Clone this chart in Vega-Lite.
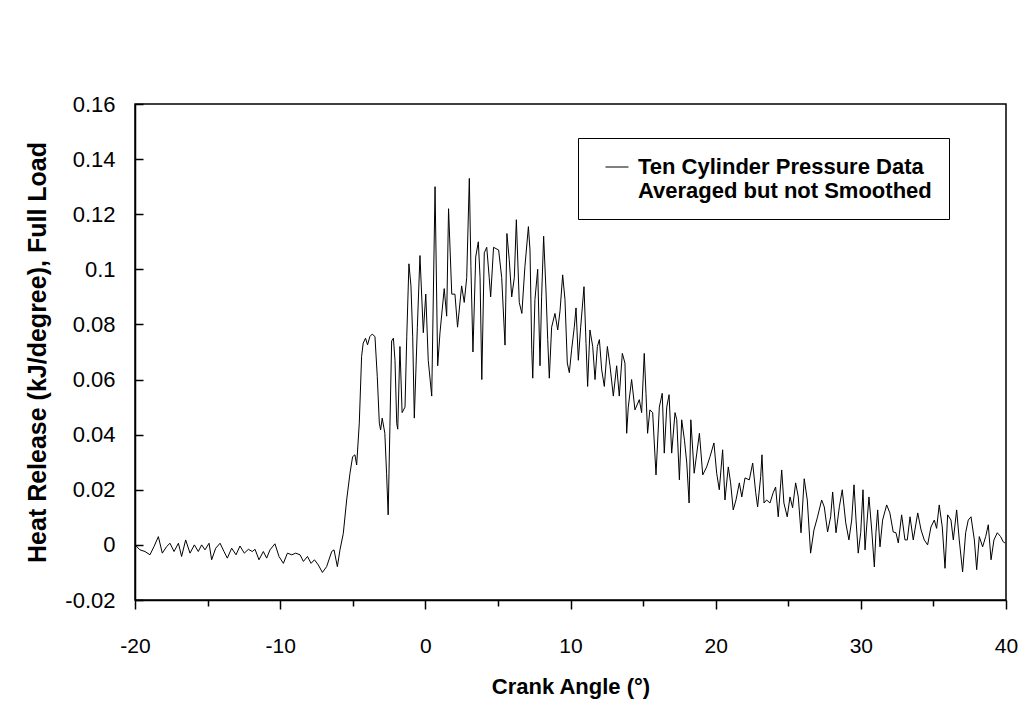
{
  "$schema": "https://vega.github.io/schema/vega-lite/v6.json",
  "autosize": {"type": "none"},
  "padding": {"left": 135, "top": 104, "right": 26, "bottom": 112},
  "width": 871,
  "height": 496,
  "background": "white",
  "config": {
    "view": {"stroke": "black", "strokeWidth": 1.5},
    "font": "Liberation Sans"
  },
  "data": {"values": [
    {"angle": -20.0, "hr": 0}, {"angle": -19.66, "hr": -0.0018}, {"angle": -19.31, "hr": -0.0024}, {"angle": -18.97, "hr": -0.0036},
    {"angle": -18.69, "hr": -0.0006}, {"angle": -18.39, "hr": 0.003}, {"angle": -18.12, "hr": -0.003}, {"angle": -17.82, "hr": -0.0006},
    {"angle": -17.59, "hr": 0.0006}, {"angle": -17.31, "hr": -0.0024}, {"angle": -17.01, "hr": 0.0006}, {"angle": -16.79, "hr": -0.0042},
    {"angle": -16.51, "hr": 0.0018}, {"angle": -16.21, "hr": -0.003}, {"angle": -15.91, "hr": 0}, {"angle": -15.64, "hr": -0.0024},
    {"angle": -15.41, "hr": 0}, {"angle": -15.18, "hr": -0.0018}, {"angle": -14.9, "hr": 0.0006}, {"angle": -14.72, "hr": -0.0054},
    {"angle": -14.44, "hr": -0.0012}, {"angle": -14.14, "hr": 0.0006}, {"angle": -13.87, "hr": -0.0024}, {"angle": -13.64, "hr": -0.0048},
    {"angle": -13.34, "hr": -0.0012}, {"angle": -13.04, "hr": -0.0036}, {"angle": -12.77, "hr": -0.0004}, {"angle": -12.47, "hr": -0.003},
    {"angle": -12.19, "hr": -0.0016}, {"angle": -11.92, "hr": -0.0024}, {"angle": -11.73, "hr": -0.0016}, {"angle": -11.46, "hr": -0.0054},
    {"angle": -11.16, "hr": -0.0024}, {"angle": -10.93, "hr": -0.0048}, {"angle": -10.7, "hr": -0.0018}, {"angle": -10.36, "hr": 0.0004},
    {"angle": -10.08, "hr": -0.0042}, {"angle": -9.78, "hr": -0.0067}, {"angle": -9.5, "hr": -0.003}, {"angle": -9.2, "hr": -0.0036},
    {"angle": -8.93, "hr": -0.003}, {"angle": -8.63, "hr": -0.0036}, {"angle": -8.4, "hr": -0.006}, {"angle": -8.12, "hr": -0.0042},
    {"angle": -7.87, "hr": -0.0067}, {"angle": -7.64, "hr": -0.0054}, {"angle": -7.37, "hr": -0.0073}, {"angle": -7.09, "hr": -0.01},
    {"angle": -6.8, "hr": -0.0079}, {"angle": -6.45, "hr": -0.0024}, {"angle": -6.29, "hr": -0.0018}, {"angle": -6.06, "hr": -0.0079},
    {"angle": -5.88, "hr": -0.0018}, {"angle": -5.65, "hr": 0.0042}, {"angle": -5.42, "hr": 0.0163}, {"angle": -5.19, "hr": 0.026},
    {"angle": -5.01, "hr": 0.032}, {"angle": -4.85, "hr": 0.0327}, {"angle": -4.73, "hr": 0.029}, {"angle": -4.55, "hr": 0.0442},
    {"angle": -4.39, "hr": 0.0684}, {"angle": -4.28, "hr": 0.0732}, {"angle": -4.12, "hr": 0.075}, {"angle": -3.98, "hr": 0.0726},
    {"angle": -3.82, "hr": 0.0756}, {"angle": -3.66, "hr": 0.0765}, {"angle": -3.47, "hr": 0.0756}, {"angle": -3.31, "hr": 0.061},
    {"angle": -3.17, "hr": 0.0442}, {"angle": -3.08, "hr": 0.0417}, {"angle": -2.97, "hr": 0.046}, {"angle": -2.79, "hr": 0.0405},
    {"angle": -2.67, "hr": 0.026}, {"angle": -2.56, "hr": 0.0109}, {"angle": -2.44, "hr": 0.043}, {"angle": -2.32, "hr": 0.074},
    {"angle": -2.2, "hr": 0.075}, {"angle": -2.09, "hr": 0.067}, {"angle": -1.97, "hr": 0.044}, {"angle": -1.9, "hr": 0.042},
    {"angle": -1.75, "hr": 0.072}, {"angle": -1.6, "hr": 0.048}, {"angle": -1.4, "hr": 0.05}, {"angle": -1.28, "hr": 0.0755},
    {"angle": -1.13, "hr": 0.102}, {"angle": -0.99, "hr": 0.094}, {"angle": -0.87, "hr": 0.0755}, {"angle": -0.76, "hr": 0.046},
    {"angle": -0.55, "hr": 0.079}, {"angle": -0.37, "hr": 0.105}, {"angle": -0.14, "hr": 0.077}, {"angle": 0.03, "hr": 0.091},
    {"angle": 0.2, "hr": 0.067}, {"angle": 0.44, "hr": 0.054}, {"angle": 0.67, "hr": 0.13}, {"angle": 0.85, "hr": 0.065},
    {"angle": 1.01, "hr": 0.077}, {"angle": 1.3, "hr": 0.093}, {"angle": 1.47, "hr": 0.083}, {"angle": 1.6, "hr": 0.122},
    {"angle": 1.82, "hr": 0.091}, {"angle": 2.04, "hr": 0.091}, {"angle": 2.22, "hr": 0.079}, {"angle": 2.5, "hr": 0.094},
    {"angle": 2.68, "hr": 0.088}, {"angle": 2.85, "hr": 0.097}, {"angle": 3.03, "hr": 0.133}, {"angle": 3.14, "hr": 0.101},
    {"angle": 3.28, "hr": 0.07}, {"angle": 3.47, "hr": 0.1045}, {"angle": 3.65, "hr": 0.11}, {"angle": 3.77, "hr": 0.097},
    {"angle": 3.89, "hr": 0.06}, {"angle": 4.06, "hr": 0.106}, {"angle": 4.23, "hr": 0.108}, {"angle": 4.4, "hr": 0.097},
    {"angle": 4.5, "hr": 0.09}, {"angle": 4.7, "hr": 0.108}, {"angle": 5.05, "hr": 0.107}, {"angle": 5.26, "hr": 0.097},
    {"angle": 5.49, "hr": 0.0725}, {"angle": 5.62, "hr": 0.113}, {"angle": 5.78, "hr": 0.1035}, {"angle": 5.95, "hr": 0.09},
    {"angle": 6.13, "hr": 0.097}, {"angle": 6.27, "hr": 0.118}, {"angle": 6.47, "hr": 0.088}, {"angle": 6.65, "hr": 0.084},
    {"angle": 6.86, "hr": 0.101}, {"angle": 7.1, "hr": 0.1155}, {"angle": 7.21, "hr": 0.107}, {"angle": 7.33, "hr": 0.071},
    {"angle": 7.4, "hr": 0.0605}, {"angle": 7.55, "hr": 0.089}, {"angle": 7.74, "hr": 0.1}, {"angle": 7.9, "hr": 0.065},
    {"angle": 8.01, "hr": 0.09}, {"angle": 8.15, "hr": 0.112}, {"angle": 8.31, "hr": 0.0925}, {"angle": 8.43, "hr": 0.0745},
    {"angle": 8.54, "hr": 0.0605}, {"angle": 8.7, "hr": 0.079}, {"angle": 8.93, "hr": 0.084}, {"angle": 9.12, "hr": 0.078},
    {"angle": 9.28, "hr": 0.085}, {"angle": 9.46, "hr": 0.098}, {"angle": 9.62, "hr": 0.089}, {"angle": 9.78, "hr": 0.066},
    {"angle": 9.92, "hr": 0.0625}, {"angle": 10.08, "hr": 0.071}, {"angle": 10.26, "hr": 0.079}, {"angle": 10.38, "hr": 0.086},
    {"angle": 10.54, "hr": 0.067}, {"angle": 10.7, "hr": 0.079}, {"angle": 10.93, "hr": 0.0937}, {"angle": 11.07, "hr": 0.073},
    {"angle": 11.18, "hr": 0.0575}, {"angle": 11.34, "hr": 0.078}, {"angle": 11.53, "hr": 0.072}, {"angle": 11.69, "hr": 0.06},
    {"angle": 11.85, "hr": 0.072}, {"angle": 11.99, "hr": 0.0745}, {"angle": 12.15, "hr": 0.0635}, {"angle": 12.33, "hr": 0.0575},
    {"angle": 12.54, "hr": 0.072}, {"angle": 12.72, "hr": 0.065}, {"angle": 12.95, "hr": 0.054}, {"angle": 13.18, "hr": 0.065},
    {"angle": 13.36, "hr": 0.054}, {"angle": 13.57, "hr": 0.0695}, {"angle": 13.75, "hr": 0.066}, {"angle": 13.87, "hr": 0.0405},
    {"angle": 13.98, "hr": 0.05}, {"angle": 14.21, "hr": 0.06}, {"angle": 14.44, "hr": 0.049}, {"angle": 14.74, "hr": 0.0527},
    {"angle": 14.9, "hr": 0.048}, {"angle": 15.08, "hr": 0.0695}, {"angle": 15.2, "hr": 0.055}, {"angle": 15.31, "hr": 0.0405},
    {"angle": 15.47, "hr": 0.049}, {"angle": 15.66, "hr": 0.048}, {"angle": 15.89, "hr": 0.0254}, {"angle": 16.12, "hr": 0.05},
    {"angle": 16.32, "hr": 0.055}, {"angle": 16.46, "hr": 0.0333}, {"angle": 16.63, "hr": 0.05}, {"angle": 16.79, "hr": 0.0545},
    {"angle": 16.97, "hr": 0.0333}, {"angle": 17.2, "hr": 0.048}, {"angle": 17.32, "hr": 0.0454}, {"angle": 17.5, "hr": 0.0236},
    {"angle": 17.66, "hr": 0.0454}, {"angle": 17.85, "hr": 0.038}, {"angle": 18.01, "hr": 0.0297}, {"angle": 18.17, "hr": 0.0152},
    {"angle": 18.29, "hr": 0.0454}, {"angle": 18.52, "hr": 0.026}, {"angle": 18.7, "hr": 0.0333}, {"angle": 18.88, "hr": 0.0405},
    {"angle": 19.11, "hr": 0.0254}, {"angle": 19.38, "hr": 0.0283}, {"angle": 19.61, "hr": 0.032}, {"angle": 19.88, "hr": 0.037},
    {"angle": 20.07, "hr": 0.026}, {"angle": 20.25, "hr": 0.02}, {"angle": 20.48, "hr": 0.0345}, {"angle": 20.64, "hr": 0.0163},
    {"angle": 20.87, "hr": 0.0283}, {"angle": 21.03, "hr": 0.0225}, {"angle": 21.21, "hr": 0.0127}, {"angle": 21.4, "hr": 0.0163},
    {"angle": 21.63, "hr": 0.0225}, {"angle": 21.8, "hr": 0.0174}, {"angle": 22.02, "hr": 0.0243}, {"angle": 22.32, "hr": 0.0236},
    {"angle": 22.55, "hr": 0.0297}, {"angle": 22.76, "hr": 0.0189}, {"angle": 22.89, "hr": 0.0138}, {"angle": 23.1, "hr": 0.0247},
    {"angle": 23.19, "hr": 0.0327}, {"angle": 23.33, "hr": 0.0152}, {"angle": 23.51, "hr": 0.0163}, {"angle": 23.74, "hr": 0.0152},
    {"angle": 23.96, "hr": 0.0189}, {"angle": 24.13, "hr": 0.021}, {"angle": 24.31, "hr": 0.0102}, {"angle": 24.55, "hr": 0.0272},
    {"angle": 24.7, "hr": 0.0152}, {"angle": 24.93, "hr": 0.0102}, {"angle": 25.12, "hr": 0.0174}, {"angle": 25.3, "hr": 0.0135},
    {"angle": 25.51, "hr": 0.0225}, {"angle": 25.69, "hr": 0.0174}, {"angle": 25.88, "hr": 0.0044}, {"angle": 26.1, "hr": 0.024},
    {"angle": 26.31, "hr": 0.0163}, {"angle": 26.54, "hr": -0.003}, {"angle": 26.77, "hr": 0.0054}, {"angle": 27.0, "hr": 0.0098},
    {"angle": 27.3, "hr": 0.0163}, {"angle": 27.48, "hr": 0.0138}, {"angle": 27.71, "hr": 0.0047}, {"angle": 27.92, "hr": 0.0102},
    {"angle": 28.06, "hr": 0.0192}, {"angle": 28.29, "hr": 0.0044}, {"angle": 28.52, "hr": 0.0138}, {"angle": 28.72, "hr": 0.02},
    {"angle": 28.96, "hr": 0.008}, {"angle": 29.18, "hr": 0.0018}, {"angle": 29.37, "hr": 0.009}, {"angle": 29.53, "hr": 0.0218},
    {"angle": 29.67, "hr": 0.009}, {"angle": 29.82, "hr": -0.003}, {"angle": 29.99, "hr": 0.0044}, {"angle": 30.15, "hr": 0.02},
    {"angle": 30.29, "hr": -0.0018}, {"angle": 30.4, "hr": 0.0065}, {"angle": 30.56, "hr": 0.0174}, {"angle": 30.75, "hr": 0.0054},
    {"angle": 30.93, "hr": -0.008}, {"angle": 31.04, "hr": 0.0044}, {"angle": 31.16, "hr": 0.0127}, {"angle": 31.32, "hr": -0.0007},
    {"angle": 31.5, "hr": 0.009}, {"angle": 31.78, "hr": 0.0145}, {"angle": 32.0, "hr": 0.0116}, {"angle": 32.23, "hr": 0.0047},
    {"angle": 32.42, "hr": 0.0044}, {"angle": 32.58, "hr": 0.0007}, {"angle": 32.81, "hr": 0.0109}, {"angle": 33.04, "hr": 0.0018},
    {"angle": 33.2, "hr": 0.0018}, {"angle": 33.39, "hr": 0.0102}, {"angle": 33.61, "hr": 0.0018}, {"angle": 33.92, "hr": 0.0116},
    {"angle": 34.15, "hr": 0.0054}, {"angle": 34.37, "hr": 0.0018}, {"angle": 34.6, "hr": 0.0}, {"angle": 34.83, "hr": 0.0065},
    {"angle": 35.06, "hr": 0.009}, {"angle": 35.22, "hr": 0.006}, {"angle": 35.4, "hr": 0.0145}, {"angle": 35.61, "hr": 0.0065},
    {"angle": 35.8, "hr": -0.0085}, {"angle": 35.98, "hr": 0.0109}, {"angle": 36.21, "hr": 0.009}, {"angle": 36.37, "hr": 0.0018},
    {"angle": 36.6, "hr": 0.0127}, {"angle": 36.78, "hr": 0.0018}, {"angle": 37.01, "hr": -0.0098}, {"angle": 37.22, "hr": 0.0044},
    {"angle": 37.4, "hr": 0.009}, {"angle": 37.59, "hr": 0.0102}, {"angle": 37.82, "hr": 0.0018}, {"angle": 37.98, "hr": -0.009},
    {"angle": 38.16, "hr": 0.003}, {"angle": 38.39, "hr": -0.0007}, {"angle": 38.6, "hr": 0.003}, {"angle": 38.78, "hr": 0.0073},
    {"angle": 38.97, "hr": -0.0054}, {"angle": 39.17, "hr": 0.0018}, {"angle": 39.4, "hr": 0.0044}, {"angle": 39.63, "hr": 0.003},
    {"angle": 39.81, "hr": 0.0011}, {"angle": 39.93, "hr": 0.0007}
  ]},
  "mark": {"type": "line", "strokeWidth": 1, "interpolate": "linear"},
  "encoding": {
    "x": {
      "field": "angle", "type": "quantitative",
      "scale": {"domain": [-20, 40], "nice": false, "zero": false},
      "axis": {
        "values": [-20, -15, -10, -5, 0, 5, 10, 15, 20, 25, 30, 35, 40],
        "labelExpr": "datum.value % 10 == 0 ? '' + datum.value : ''",
        "grid": false,
        "domainColor": "black", "domainWidth": 1.5,
        "tickColor": "black", "tickWidth": 1.5,
        "tickSize": {"condition": {"test": "datum.value % 10 == 0", "value": 9}, "value": 6},
        "labelFont": "Liberation Sans", "labelFontSize": 21, "labelColor": "black",
        "labelPadding": 26, "labelFlush": false,
        "title": "Crank Angle (°)",
        "titleFont": "Liberation Sans", "titleFontSize": 22, "titleFontWeight": "bold", "titleColor": "black",
        "titlePadding": 20
      }
    },
    "y": {
      "field": "hr", "type": "quantitative",
      "scale": {"domain": [-0.02, 0.16], "nice": false, "zero": false},
      "axis": {
        "values": [-0.02, 0, 0.02, 0.04, 0.06, 0.08, 0.1, 0.12, 0.14, 0.16],
        "labelExpr": "'' + datum.value",
        "grid": false,
        "domainColor": "black", "domainWidth": 1.5,
        "tickColor": "black", "tickWidth": 1.5, "tickSize": -8,
        "labelFont": "Liberation Sans", "labelFontSize": 22, "labelColor": "black",
        "labelPadding": 28, "labelFlush": false,
        "title": "Heat Release (kJ/degree), Full Load",
        "titleFont": "Liberation Sans", "titleFontSize": 25, "titleFontWeight": "bold", "titleColor": "black",
        "titlePadding": 14
      }
    },
    "color": {
      "datum": "Ten Cylinder Pressure Data",
      "scale": {"range": ["black"]},
      "legend": {
        "title": null,
        "orient": "none", "legendX": 443, "legendY": 34,
        "strokeColor": "black", "fillColor": "white", "padding": 17,
        "symbolType": "stroke", "symbolSize": 529, "symbolStrokeWidth": 1, "symbolOffset": 10,
        "labelExpr": "['Ten Cylinder Pressure Data', 'Averaged but not Smoothed']",
        "labelFont": "Liberation Sans", "labelFontSize": 22, "labelFontWeight": "bold", "labelColor": "black",
        "labelLimit": 0, "labelOffset": 9
      }
    }
  }
}
